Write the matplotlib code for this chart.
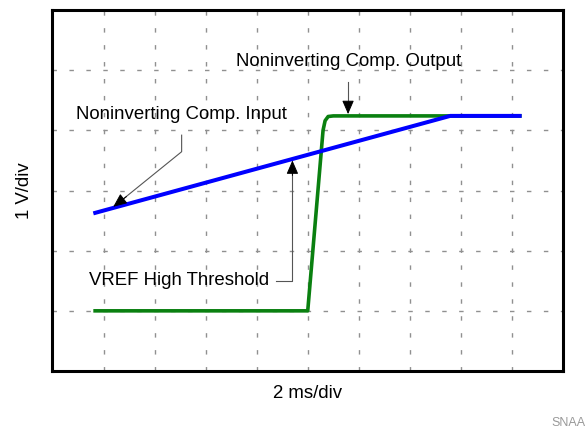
import matplotlib
matplotlib.use("Agg")
import matplotlib.pyplot as plt

plt.rcParams["font.family"] = ["Liberation Sans", "DejaVu Sans"]

# scope traces, in divisions (x: 2 ms/div, y: 1 V/div)
input_t = [0.8, 7.79, 9.19]
input_v = [2.62, 4.24, 4.24]

output_t = [0.8, 5.0, 5.30, 5.34, 5.40, 5.50, 9.19]
output_v = [1.0, 1.0, 4.00, 4.16, 4.23, 4.24, 4.24]

x_divs = 10
y_divs = 6

fig = plt.figure(figsize=(5.87, 4.32), dpi=100)
ax = fig.add_axes([0.0894, 0.1412, 0.8697, 0.8356])

ax.set_xlim(0, x_divs)
ax.set_ylim(0, y_divs)

# dashed graticule
grid_style = dict(color="#909090", lw=1.0, linestyle=(0, (3.2, 9.0)), zorder=1)
for i in range(1, x_divs):
    ax.axvline(i, **grid_style)
for j in range(1, y_divs):
    ax.axhline(j, **grid_style)

ax.plot(output_t, output_v, color="#0a8010", lw=2.6, solid_capstyle="butt", zorder=3)
ax.plot(input_t, input_v, color="#0000ff", lw=2.9, solid_capstyle="butt", zorder=4)

ax.set_xticks([])
ax.set_yticks([])
for sp in ax.spines.values():
    sp.set_linewidth(2.2)
    sp.set_color("black")

fs = 13.4
ax.set_xlabel("2 ms/div", fontsize=fs, labelpad=10)
ax.set_ylabel("1 V/div", fontsize=fs, labelpad=14)

lead = dict(color="#555555", lw=0.8, zorder=5, clip_on=False)
head = dict(arrowstyle="-|>,head_length=0.6,head_width=0.26", mutation_scale=14,
            color="black", lw=0.7, shrinkA=0, shrinkB=0)

# Noninverting Comp. Output
ax.text(3.59, 5.15, "Noninverting Comp. Output", fontsize=fs, va="center", ha="left")
ax.plot([5.79, 5.79], [4.80, 4.40], **lead)
ax.annotate("", xy=(5.79, 4.27), xytext=(5.79, 4.45), arrowprops=head, zorder=6)

# Noninverting Comp. Input
ax.text(0.46, 4.27, "Noninverting Comp. Input", fontsize=fs, va="center", ha="left")
ax.plot([2.53, 2.53, 1.30], [3.92, 3.645, 2.80], **lead)
ax.annotate("", xy=(1.19, 2.73), xytext=(1.45, 2.90), arrowprops=head, zorder=6)

# VREF High Threshold
ax.text(0.72, 1.50, "VREF High Threshold", fontsize=fs, va="center", ha="left")
ax.plot([4.38, 4.70, 4.70], [1.50, 1.50, 3.35], **lead)
ax.annotate("", xy=(4.70, 3.50), xytext=(4.70, 3.25), arrowprops=head, zorder=6)

fig.text(551 / 587, 1 - 423 / 432, "SNAA", fontsize=9, color="#999999", va="center", ha="left")

fig.savefig("out.png", dpi=100)
